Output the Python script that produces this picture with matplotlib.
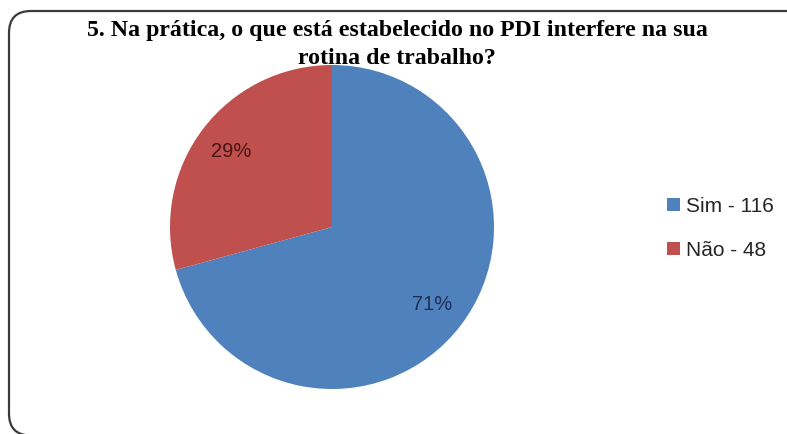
import matplotlib.pyplot as plt
from matplotlib.patches import FancyBboxPatch

# answers to question 5
labels = ['Sim', 'Não']
counts = [116, 48]
colors = ['#4F81BD', '#C0504D']
pct_colors = ['#1F2F55', '#4A1414']
title = '5. Na prática, o que está estabelecido no PDI interfere na sua\nrotina de trabalho?'

W, H = 787, 435
fig = plt.figure(figsize=(W / 100, H / 100), dpi=100)

# background axes in pixel units, holds the rounded frame
bg = fig.add_axes([0, 0, 1, 1], zorder=-1)
bg.set_xlim(0, W)
bg.set_ylim(H, 0)
bg.axis('off')
bg.add_patch(FancyBboxPatch((9, 12), 800, 424.5,
                            boxstyle='round,pad=0,rounding_size=22',
                            facecolor='white', edgecolor='#3a3a3a', linewidth=1.6))

# pie centred at (332, 228) px, radius 162 px
cx, cy, r = 332, 228, 162
ax = fig.add_axes([(cx - r) / W, (H - cy - r) / H, 2 * r / W, 2 * r / H])
wedges, texts, autotexts = ax.pie(counts, colors=colors, startangle=90, counterclock=False,
                                  autopct=lambda p: '%d%%' % round(p), pctdistance=0.78,
                                  radius=1.0)
for t, c in zip(autotexts, pct_colors):
    t.set_color(c)
    t.set_fontsize(14.5)
    t.set_family('Liberation Sans')
ax.set_xlim(-1, 1)
ax.set_ylim(-1, 1)

fig.text(397 / W, 1 - 20 / H, title, ha='center', va='top', fontsize=17.2,
         family='Liberation Serif', fontweight='bold', linespacing=1.45)

legend_labels = ['%s - %d' % (l, c) for l, c in zip(labels, counts)]
fig.legend(wedges, legend_labels, loc='center left',
           bbox_to_anchor=(667 / W, 1 - 229 / H), frameon=False,
           prop={'family': 'Liberation Sans', 'size': 15}, labelcolor='#262626',
           handlelength=0.6, handleheight=0.6, handletextpad=0.3,
           labelspacing=1.2, borderpad=0, borderaxespad=0)

fig.savefig('out.png', dpi=100)
